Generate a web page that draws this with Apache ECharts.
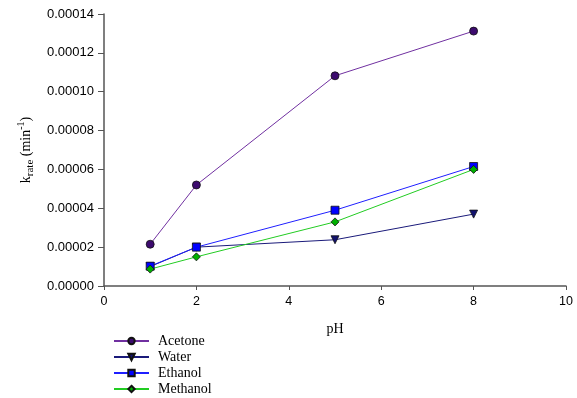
<!DOCTYPE html>
<html><head><meta charset="utf-8">
<script src="https://cdn.jsdelivr.net/npm/echarts@6/dist/echarts.min.js"></script>
<style>html,body{margin:0;padding:0;background:#fff}#c{width:577px;height:398px}</style>
</head><body><div id="c"></div>
<script>
var pH = [1, 2, 5, 8];
var acetone = [0.0000215, 0.0000520, 0.0001082, 0.0001312];
var water = [0.0000100, 0.0000200, 0.0000238, 0.0000370];
var ethanol = [0.0000102, 0.0000200, 0.0000390, 0.0000615];
var methanol = [0.0000087, 0.0000150, 0.0000330, 0.0000600];
var seriesNames = ['Acetone', 'Water', 'Ethanol', 'Methanol'];

function pairs(v){ return pH.map(function(x,i){ return [x, v[i]]; }); }
var chart = echarts.init(document.getElementById('c'));
var serif = '"Liberation Serif", "Times New Roman", serif';
var sans = '"Liberation Sans", Arial, sans-serif';
function mk(name, data, lineColor, fill, symbol, rot){
  return {
    name: name, type: 'line', data: pairs(data), symbol: symbol, symbolSize: 8,
    symbolRotate: rot || 0, showAllSymbol: true,
    lineStyle: {color: lineColor, width: 1},
    itemStyle: {color: fill, borderColor: '#111', borderWidth: 0.8},
    emphasis: {disabled: true}, animation: false
  };
}
chart.setOption({
  animation: false,
  grid: {left: 104, right: 11, top: 14, bottom: 112},
  legend: {
    orient: 'vertical', left: 108, top: 329, height: 69, itemWidth: 35, itemHeight: 8, itemGap: 2,
    textStyle: {fontFamily: serif, fontSize: 14, lineHeight: 14, color: '#000', padding: [0,0,0,4]},
    data: seriesNames
  },
  xAxis: {
    type: 'value', min: 0, max: 10, interval: 2,
    name: 'pH', nameLocation: 'middle', nameGap: 36,
    nameTextStyle: {fontFamily: serif, fontSize: 14, color: '#000'},
    axisLine: {lineStyle: {color: '#555', width: 1.5}},
    axisTick: {show: true, length: 4, lineStyle: {color: '#555'}},
    axisLabel: {fontFamily: sans, fontSize: 12.5, color: '#000', margin: 9},
    splitLine: {show: false}
  },
  yAxis: {
    type: 'value', min: 0, max: 0.00014, interval: 0.00002,
    name: '{a|k}{sub|rate}{a| (min}{sup|-1}{a|)}', nameLocation: 'middle', nameGap: 60,
    nameRotate: 90,
    nameTextStyle: {
      fontFamily: serif, fontSize: 14, color: '#000',
      rich: {
        a: {fontFamily: serif, fontSize: 14, color: '#000', lineHeight: 20},
        sub: {fontFamily: serif, fontSize: 11, color: '#000', verticalAlign: 'bottom', lineHeight: 20},
        sup: {fontFamily: serif, fontSize: 10, color: '#000', verticalAlign: 'top', lineHeight: 20}
      }
    },
    axisLine: {show: true, lineStyle: {color: '#555', width: 1.5}},
    axisTick: {show: true, length: 6, lineStyle: {color: '#555'}},
    axisLabel: {fontFamily: sans, fontSize: 13, color: '#000', margin: 10,
      formatter: function(v){ return v.toFixed(5); }},
    splitLine: {show: false}
  },
  series: [
    mk('Acetone', acetone, '#7030A0', '#3C0A6E', 'circle'),
    mk('Water', water, '#1A1A7A', '#12126E', 'triangle', 180),
    mk('Ethanol', ethanol, '#1F1FFF', '#0000FF', 'rect'),
    mk('Methanol', methanol, '#22CC22', '#00B000', 'diamond')
  ]
});
</script></body></html>
